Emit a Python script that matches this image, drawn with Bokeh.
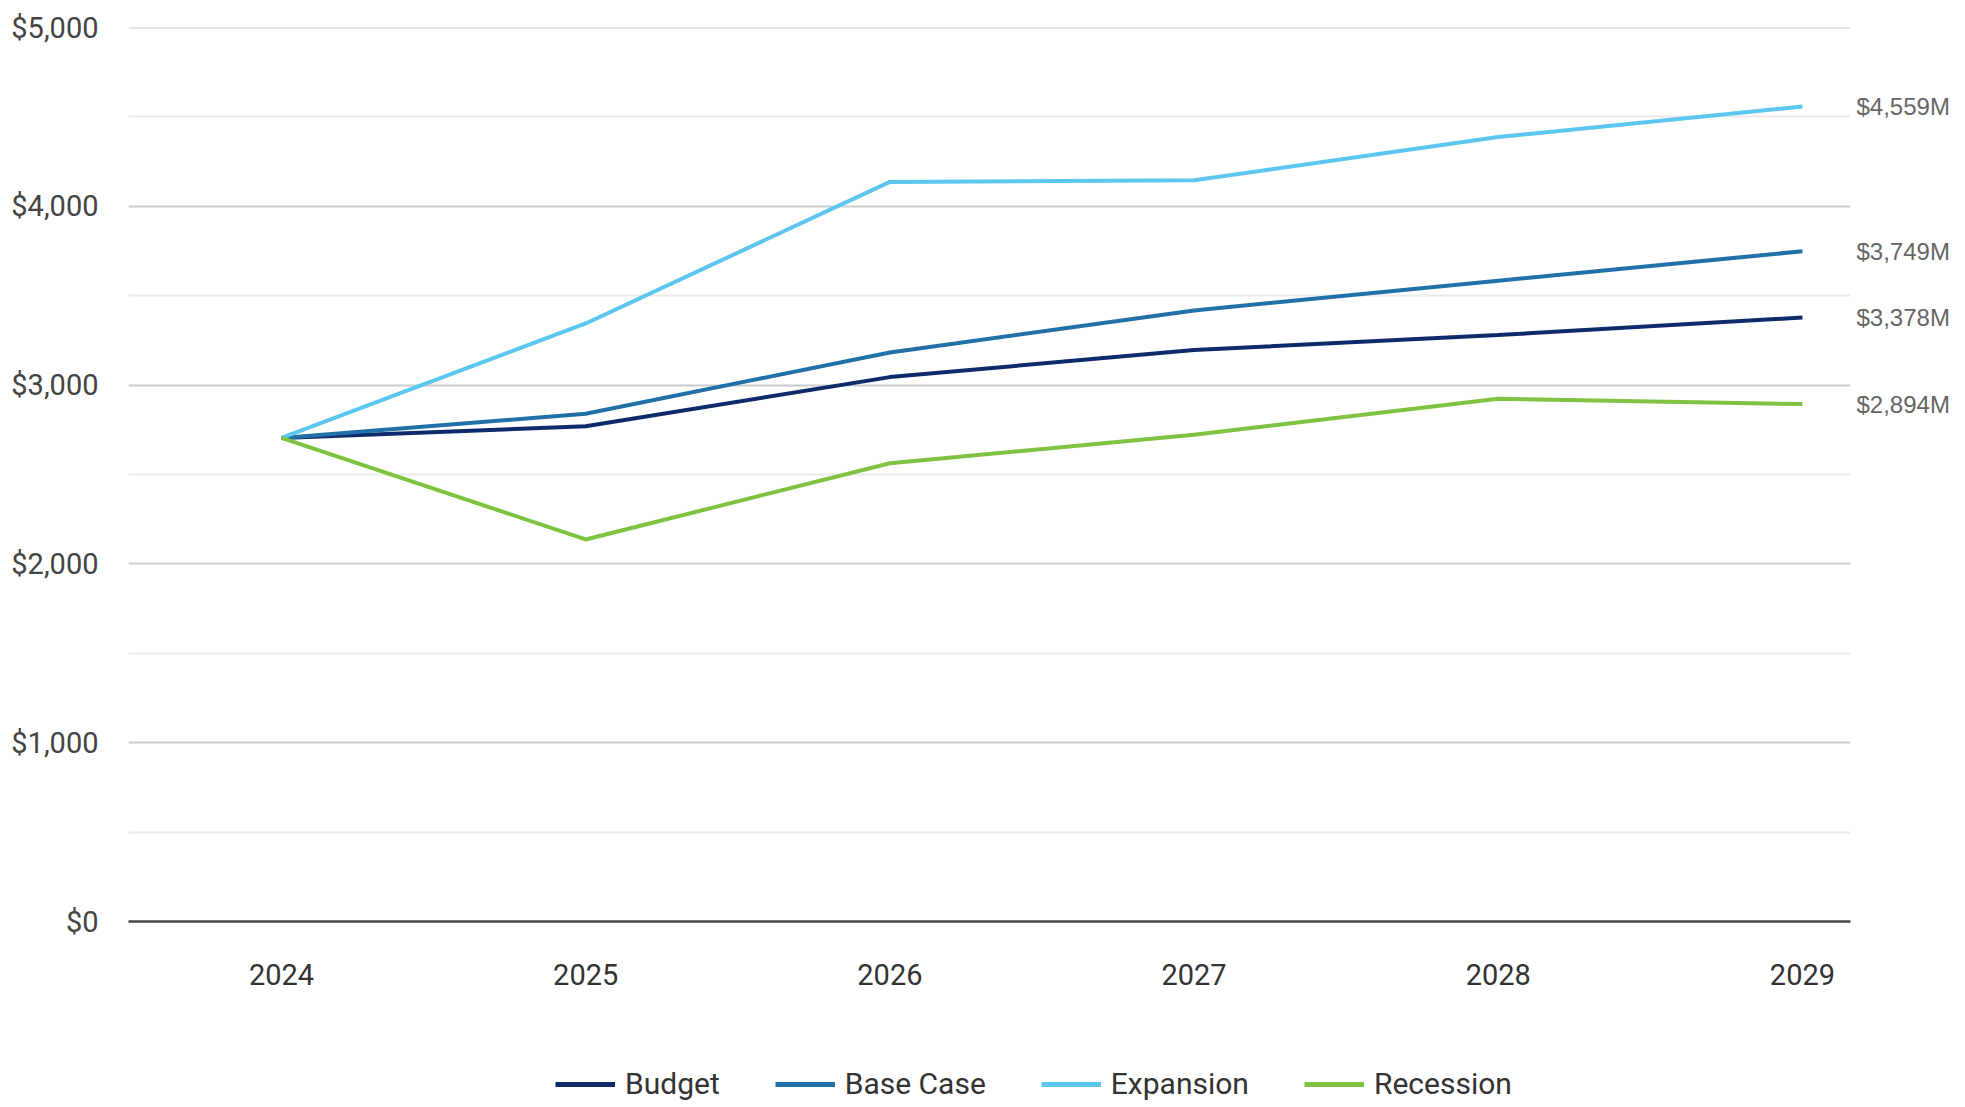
from bokeh.plotting import figure
from bokeh.layouts import column
from bokeh.models import (Range1d, FixedTicker, CustomJSTickFormatter, Legend, LegendItem,
                          LinearAxis)
from bokeh.embed import file_html
from bokeh.resources import INLINE

years = [2024, 2025, 2026, 2027, 2028, 2029]
budget = [2705, 2770, 3045, 3197, 3280, 3378]
base_case = [2705, 2840, 3183, 3418, 3584, 3749]
expansion = [2705, 3345, 4137, 4146, 4388, 4559]
recession = [2705, 2137, 2563, 2722, 2924, 2894]
series_names = ["Budget", "Base Case", "Expansion", "Recession"]
series_colors = ["#0d2a6b", "#2270a8", "#5cc6ef", "#80c342"]
y_ticks = [0, 1000, 2000, 3000, 4000, 5000]
y_minor = [500, 1500, 2500, 3500, 4500]

FONT = "Roboto"

p = figure(frame_width=1722, frame_height=894, output_backend="svg", toolbar_location=None,
           x_range=Range1d(2023.497, 2029.158), y_range=Range1d(0, 5000.5),
           min_border_left=128, min_border_right=110, min_border_top=27,
           min_border_bottom=80)
p.outline_line_color = None
p.background_fill_color = "white"
p.border_fill_color = "white"

# axes
p.xaxis.ticker = FixedTicker(ticks=years)
p.xaxis.axis_line_color = "#444444"
p.xaxis.axis_line_width = 2.5
p.xaxis.major_tick_line_color = None
p.xaxis.minor_tick_line_color = None
p.xaxis.major_tick_out = 0
p.xaxis.major_label_standoff = 42
p.xaxis.major_label_text_font = FONT
p.xaxis.major_label_text_font_size = "29px"
p.xaxis.major_label_text_color = "#333333"

p.yaxis.ticker = FixedTicker(ticks=y_ticks, minor_ticks=y_minor)
p.yaxis.formatter = CustomJSTickFormatter(code="return '$' + tick.toLocaleString('en-US');")
p.yaxis.axis_line_color = None
p.yaxis.major_tick_line_color = None
p.yaxis.minor_tick_line_color = None
p.yaxis.major_tick_out = 0
p.yaxis.minor_tick_out = 0
p.yaxis.major_label_standoff = 30
p.yaxis.major_label_text_font = FONT
p.yaxis.major_label_text_font_size = "29px"
p.yaxis.major_label_text_color = "#444444"

p.xgrid.grid_line_color = None
p.ygrid.grid_line_color = "#cccccc"
p.ygrid.grid_line_width = 2
p.ygrid.minor_grid_line_color = "#ebebeb"
p.ygrid.minor_grid_line_width = 2

all_series = [budget, base_case, expansion, recession]
for name, vals, col in zip(series_names, all_series, series_colors):
    p.line(years, vals, line_color=col, line_width=4)

# end-value labels as a right axis ticked at the final values
end_vals = [s[-1] for s in all_series]
raxis = LinearAxis(ticker=FixedTicker(ticks=end_vals),
                   formatter=CustomJSTickFormatter(code="return '$' + tick.toLocaleString('en-US') + 'M';"),
                   axis_line_color=None, major_tick_line_color=None, minor_tick_line_color=None,
                   major_tick_out=0, minor_tick_out=0, major_label_standoff=6,
                   major_label_text_font="Liberation Sans", major_label_text_font_size="24px",
                   major_label_text_color="#666666")
p.add_layout(raxis, "right")

# legend strip below the chart (series drawn off-view so only the legend shows)
lp = figure(width=1960, height=106, output_backend="svg", toolbar_location=None,
            x_range=Range1d(0, 1), y_range=Range1d(0, 1),
            x_axis_type=None, y_axis_type=None, min_border=0)
lp.outline_line_color = None
lp.xgrid.grid_line_color = None
lp.ygrid.grid_line_color = None
items = []
for name, vals, col in zip(series_names, all_series, series_colors):
    r = lp.line(years, vals, line_color=col, line_width=5)
    items.append(LegendItem(label=name, renderers=[r]))

legend = Legend(items=items, orientation="horizontal", location=(427, 6),
                label_text_font=FONT, label_text_font_size="30px",
                label_text_color="#333333", glyph_width=60, glyph_height=30,
                label_standoff=10, spacing=55, padding=0, margin=0,
                border_line_color=None, background_fill_alpha=0)
lp.add_layout(legend, "center")

layout = column(p, lp, spacing=0)
open("out.html", "w").write(file_html(layout, INLINE))
